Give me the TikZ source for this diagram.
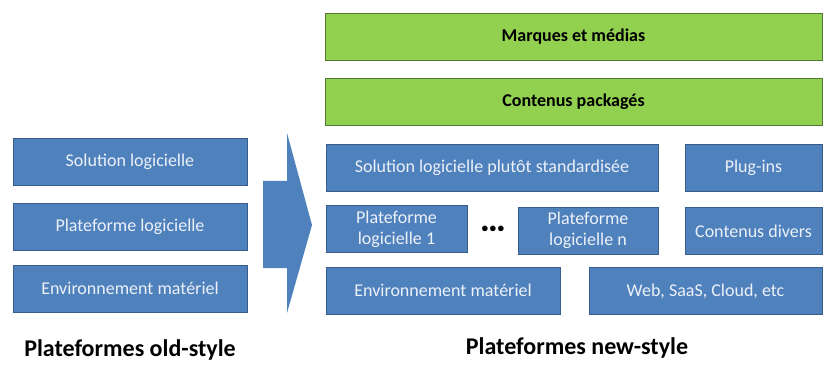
\documentclass[tikz,border=0pt]{standalone}
\usepackage{fontspec}
\setmainfont{Carlito}
\usetikzlibrary{positioning}

\definecolor{boxblue}{RGB}{79,129,189}
\definecolor{boxblueline}{RGB}{56,93,138}
\definecolor{boxgreen}{RGB}{146,208,80}
\definecolor{boxgreenline}{RGB}{80,120,50}
\definecolor{paletext}{RGB}{236,241,248}

\begin{document}
\begin{tikzpicture}[x=1pt, y=-1pt]
    \tikzstyle{every node}=[align = center, inner sep=0pt]
    \tikzstyle{blue box}=[fill=boxblue, draw=boxblueline, line width=0.8pt,
        text=paletext, font=\fontsize{18}{21}\selectfont, minimum height=47pt]
    \tikzstyle{green box}=[fill=boxgreen, draw=boxgreenline, line width=0.8pt,
        font=\bfseries\fontsize{18}{21}\selectfont, minimum height=47pt, minimum width=497pt]
    \tikzstyle{caption}=[font=\bfseries\fontsize{24}{26}\selectfont]
    \useasboundingbox (0,0) rectangle (824,374);
    % old style
    \node[blue box, minimum width=234pt] (oldsol) at (130,161.5) {Solution logicielle};
    \node[blue box, minimum width=234pt] (oldplat) at (130,226.5) {Plateforme logicielle};
    \node[blue box, minimum width=234pt] (oldenv) at (130,288.5) {Environnement matériel};
    \node[caption] (oldlabel) at (130,350) {Plateformes old-style};
    % big arrow
    \fill[boxblue] (263,181) -- (287,181) -- (287,133) -- (312,225)
        -- (287,313) -- (287,268) -- (263,268) -- cycle;
    % new style
    \node[green box] (brands) at (573.5,37) {Marques et médias};
    \node[green box] (packaged) at (573.5,101.5) {Contenus packagés};
    \node[blue box, minimum width=332pt] (newsol) at (492,168) {Solution logicielle plutôt standardisée};
    \node[blue box, minimum width=137pt] (plugins) at (753.5,168) {Plug-ins};
    \node[blue box, minimum width=141pt] (plat1) at (396.5,229) {Plateforme\\logicielle 1};
    \node[font=\fontsize{14}{14}\selectfont] (dots) at (493,229) {$\bullet\!\bullet\!\bullet$};
    \node[blue box, minimum width=140pt] (platn) at (588,230.5) {Plateforme\\logicielle n};
    \node[blue box, minimum width=137pt] (divers) at (753.5,231) {Contenus divers};
    \node[blue box, minimum width=234pt] (newenv) at (443,290.5) {Environnement matériel};
    \node[blue box, minimum width=233pt] (web) at (705.5,291) {Web, SaaS, Cloud, etc};
    \node[caption] (newlabel) at (577,348) {Plateformes new-style};
\end{tikzpicture}
\end{document}
